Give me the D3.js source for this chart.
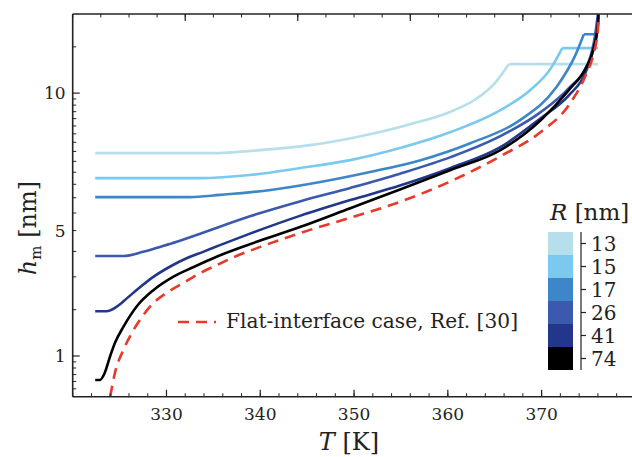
<!DOCTYPE html>
<html>
<head>
<meta charset="utf-8">
<script src="https://cdn.jsdelivr.net/npm/d3@7"></script>
<style>
  body { margin: 0; background: #fff; }
  svg text { font-family: "DejaVu Serif", serif; fill: #222; }
</style>
</head>
<body>
<svg id="vis" width="632" height="457"></svg>
<script>
// radii of the simulated cases (legend) and line colours
const radii = [13, 15, 17, 26, 41, 74];
const colors = ["#b7dfeb", "#7bc9ee", "#3d87c9", "#3b5aae", "#23378a", "#000000"];

// h_m(T), one list per radius: [T (K), h (nm)]
const r13 = [[322.4,5.91],[334.7,5.91],[340.0,6.07],[345.3,6.34],[350.7,6.86],[356.0,7.62],[360.3,8.50],[363.0,9.50],[365.0,10.9],[366.5,12.89]];
const r15 = [[322.4,4.75],[333.6,4.75],[338.9,4.88],[344.3,5.19],[349.6,5.56],[354.9,6.18],[360.3,7.11],[365.6,8.62],[368.8,10.27],[371.0,12.45],[372.2,14.83]];
const r17 = [[322.4,4.02],[332.5,4.02],[335.7,4.10],[341.1,4.28],[346.4,4.59],[351.7,5.01],[357.1,5.56],[362.4,6.45],[367.7,7.89],[371.5,10.45],[373.6,13.95],[374.5,16.76]];
const r26 = [[322.4,2.40],[325.4,2.40],[327.5,2.49],[329.3,2.60],[331.1,2.72],[333.6,2.92],[338.9,3.40],[344.3,3.88],[349.6,4.36],[354.9,4.94],[360.3,5.71],[365.6,6.86],[369.9,8.47],[372.9,10.45],[375.0,13.12],[375.7,16.6],[376.0,20]];
const r41 = [[322.4,1.48],[323.6,1.48],[324.7,1.54],[325.8,1.66],[327.2,1.83],[328.6,2.00],[330.4,2.19],[332.2,2.36],[333.9,2.49],[335.7,2.64],[338.9,2.92],[344.3,3.42],[349.6,3.92],[354.9,4.45],[360.3,5.19],[365.6,6.23],[369.9,8.03],[372.9,9.8],[374.7,12.0],[375.5,14.6],[376.0,18.1],[376.06,20]];
const r74 = [[322.4,0.81],[322.9,0.81],[323.4,0.86],[324.0,1.00],[324.5,1.12],[325.4,1.29],[326.8,1.54],[328.6,1.78],[330.7,2.00],[332.9,2.18],[335.4,2.39],[338.6,2.64],[344.3,3.10],[349.6,3.65],[354.9,4.30],[360.3,5.10],[365.6,6.07],[369.9,7.89],[372.9,10.27],[374.7,12.45],[375.5,14.57],[376.0,18.14],[376.06,20]];
const flat = [[324.0,0.70],[324.5,0.862],[325.4,1.054],[326.3,1.223],[327.4,1.41],[328.6,1.59],[330.0,1.736],[331.8,1.895],[333.6,2.068],[335.4,2.22],[337.1,2.37],[340.0,2.60],[344.3,2.94],[349.6,3.36],[354.9,3.86],[360.3,4.62],[365.6,5.75],[369.9,7.11],[372.9,9.0],[374.7,11.7],[375.5,13.95],[376.0,17.36],[376.06,20]];
const series = [r13, r15, r17, r26, r41, r74];
// the small cases stop growing at h = R and run flat to the melting point
const capEnd = 376.0;

// ticks
const xTicks = [330, 340, 350, 360, 370];
const xMinor = d3.range(320, 381, 2);
const yTickValues = [1, 3, 10];
const yTickLabels = ["1", "5", "10"];
const yMinor = [0.75, 0.8, 0.85, 0.9, 0.95].concat(d3.range(1.5, 10, 0.5), [15]);
const topMajor = [1, 2, 3, 4];
const topMinor = d3.range(0, 5.01, 0.25);

const svg = d3.select("svg#vis");
const m = {left: 72.7, right: 635.4, top: 14, bottom: 396.7};

const x = d3.scaleLinear().domain([320, 380]).range([m.left, m.right]);
const y = d3.scaleLog().domain([0.7, 20]).range([m.bottom, m.top]);
const xTop = d3.scaleLinear().domain([0, 5]).range([m.left, m.right]);

svg.append("clipPath").attr("id", "plotclip")
  .append("rect").attr("x", m.left).attr("y", m.top)
  .attr("width", m.right - m.left).attr("height", m.bottom - m.top);

const plot = svg.append("g").attr("clip-path", "url(#plotclip)");

const line = d3.line()
  .x(d => x(d[0]))
  .y(d => y(d[1]))
  .curve(d3.curveMonotoneX);

series.forEach(function(s, i) {
  plot.append("path")
    .attr("d", line(s))
    .attr("fill", "none")
    .attr("stroke", colors[i])
    .attr("stroke-width", 2.6);
  // cap segment for the radii that saturate at h = R
  if (i < 3) {
    const last = s[s.length - 1];
    plot.append("line")
      .attr("x1", x(last[0])).attr("x2", x(capEnd))
      .attr("y1", y(last[1])).attr("y2", y(last[1]))
      .attr("stroke", colors[i])
      .attr("stroke-width", 2.6);
  }
});

plot.append("path")
  .attr("d", line(flat))
  .attr("fill", "none")
  .attr("stroke", "#e8392a")
  .attr("stroke-width", 2.6)
  .attr("stroke-dasharray", "11,7");

// frame
const axisColor = "#222";
svg.append("line").attr("x1", m.left).attr("x2", m.left).attr("y1", m.top).attr("y2", m.bottom)
  .attr("stroke", axisColor).attr("stroke-width", 1.6);
svg.append("line").attr("x1", m.left).attr("x2", m.right).attr("y1", m.bottom).attr("y2", m.bottom)
  .attr("stroke", axisColor).attr("stroke-width", 1.6);
svg.append("line").attr("x1", m.left).attr("x2", m.right).attr("y1", m.top).attr("y2", m.top)
  .attr("stroke", axisColor).attr("stroke-width", 1.6);

// bottom axis, ticks pointing in
const gx = svg.append("g");
gx.selectAll("line.minor").data(xMinor).enter().append("line")
  .attr("x1", d => x(d)).attr("x2", d => x(d))
  .attr("y1", m.bottom).attr("y2", m.bottom - 3.5)
  .attr("stroke", axisColor).attr("stroke-width", 1);
gx.selectAll("line.major").data(xTicks).enter().append("line")
  .attr("x1", d => x(d)).attr("x2", d => x(d))
  .attr("y1", m.bottom).attr("y2", m.bottom - 7)
  .attr("stroke", axisColor).attr("stroke-width", 1.2);
gx.selectAll("text").data(xTicks).enter().append("text")
  .attr("x", d => x(d)).attr("y", 420)
  .attr("text-anchor", "middle")
  .attr("font-size", 17)
  .text(d => d);

// top axis, no labels
const gt = svg.append("g");
gt.selectAll("line.minor").data(topMinor).enter().append("line")
  .attr("x1", d => xTop(d)).attr("x2", d => xTop(d))
  .attr("y1", m.top).attr("y2", m.top + 3.5)
  .attr("stroke", axisColor).attr("stroke-width", 1);
gt.selectAll("line.major").data(topMajor).enter().append("line")
  .attr("x1", d => xTop(d)).attr("x2", d => xTop(d))
  .attr("y1", m.top).attr("y2", m.top + 7)
  .attr("stroke", axisColor).attr("stroke-width", 1.2);

// left axis
const gy = svg.append("g");
gy.selectAll("line.minor").data(yMinor).enter().append("line")
  .attr("x1", m.left).attr("x2", m.left + 3.5)
  .attr("y1", d => y(d)).attr("y2", d => y(d))
  .attr("stroke", axisColor).attr("stroke-width", 1);
gy.selectAll("line.major").data([1, 10]).enter().append("line")
  .attr("x1", m.left).attr("x2", m.left + 7)
  .attr("y1", d => y(d)).attr("y2", d => y(d))
  .attr("stroke", axisColor).attr("stroke-width", 1.2);
gy.selectAll("text").data(yTickValues).enter().append("text")
  .attr("x", m.left - 7).attr("y", d => y(d) + 6)
  .attr("text-anchor", "end")
  .attr("font-size", 17)
  .text((d, i) => yTickLabels[i]);

// axis titles
const xt = svg.append("text").attr("x", 349).attr("y", 450)
  .attr("text-anchor", "middle").attr("font-size", 24);
xt.append("tspan").attr("font-style", "italic").text("T");
xt.append("tspan").text(" [K]");

const yt = svg.append("text")
  .attr("transform", "translate(36,228) rotate(-90)")
  .attr("text-anchor", "middle").attr("font-size", 24);
yt.append("tspan").attr("font-style", "italic").text("h");
yt.append("tspan").attr("font-size", 15).attr("dy", 5).text("m");
yt.append("tspan").attr("dy", -5).text(" [nm]");

// dashed line legend
svg.append("line").attr("x1", 178).attr("x2", 216).attr("y1", 322).attr("y2", 322)
  .attr("stroke", "#e8392a").attr("stroke-width", 2.6).attr("stroke-dasharray", "11,7");
svg.append("text").attr("x", 226).attr("y", 328)
  .attr("font-size", 20)
  .attr("textLength", 292).attr("lengthAdjust", "spacingAndGlyphs")
  .text("Flat-interface case, Ref.  [30]");

// radius legend (discrete colour bar)
const lgTop = 232, lgH = 23, lgX = 548, lgW = 25;
const lg = svg.append("g");
lg.selectAll("rect").data(radii).enter().append("rect")
  .attr("x", lgX).attr("y", (d, i) => lgTop + i * lgH)
  .attr("width", lgW).attr("height", lgH)
  .attr("fill", (d, i) => colors[i]);
lg.append("line").attr("x1", 581).attr("x2", 581)
  .attr("y1", lgTop).attr("y2", lgTop + radii.length * lgH)
  .attr("stroke", axisColor).attr("stroke-width", 1.2);
lg.selectAll("line.t").data(radii).enter().append("line")
  .attr("x1", 581).attr("x2", 586)
  .attr("y1", (d, i) => lgTop + (i + 0.5) * lgH)
  .attr("y2", (d, i) => lgTop + (i + 0.5) * lgH)
  .attr("stroke", axisColor).attr("stroke-width", 1.2);
lg.selectAll("text").data(radii).enter().append("text")
  .attr("x", 591).attr("y", (d, i) => lgTop + (i + 0.5) * lgH + 7)
  .attr("font-size", 20)
  .text(d => d);

const lt = svg.append("text").attr("x", 550).attr("y", 220).attr("font-size", 23);
lt.append("tspan").attr("font-style", "italic").text("R");
lt.append("tspan").text(" [nm]");
</script>
</body>
</html>
